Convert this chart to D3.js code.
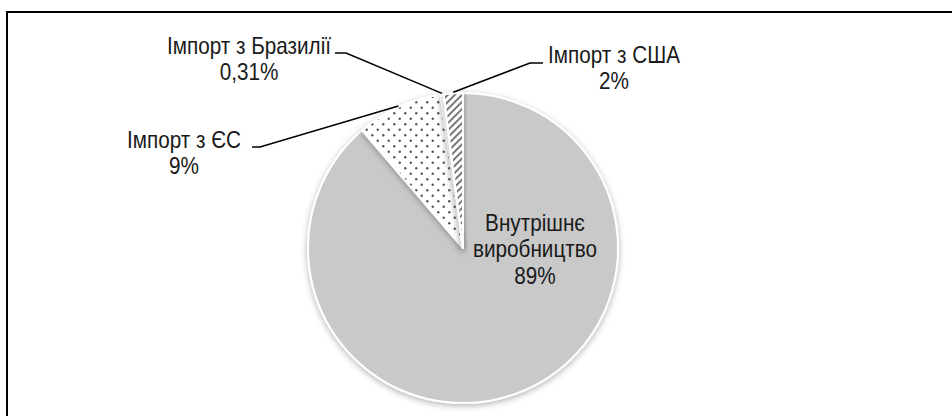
<!DOCTYPE html>
<html>
<head>
<meta charset="utf-8">
<script src="https://cdn.jsdelivr.net/npm/d3@7"></script>
<style>
  body { margin: 0; background: #fff; }
  svg { display: block; }
  text { font-family: "Liberation Sans", Arial, sans-serif; fill: #1a1a1a; }
</style>
</head>
<body>
<div class="canvas"></div>
<script>
// data
const categories = ['Внутрішнє виробництво', 'Імпорт з ЄС', 'Імпорт з Бразилії', 'Імпорт з США'];
const values = [89, 9, 0.31, 2];
const valueLabels = ['89%', '9%', '0,31%', '2%'];
const fills = ['#c9c9c9', 'url(#dots)', '#ffffff', 'url(#hatch)'];

const dimensions = { width: 952, height: 416, radius: 155 };
const center = { x: 463, y: 248 };
const narrow = 0.9; // squeeze Liberation Sans to look like Arial Narrow
const fontSize = 23;

const svg = d3
  .select('.canvas')
  .append('svg')
  .attr('width', dimensions.width)
  .attr('height', dimensions.height);

const defs = svg.append('defs');

// dotted pattern
const dots = defs
  .append('pattern')
  .attr('id', 'dots')
  .attr('patternUnits', 'userSpaceOnUse')
  .attr('width', 11)
  .attr('height', 11);
dots.append('rect').attr('width', 11).attr('height', 11).attr('fill', '#fff');
dots.append('circle').attr('cx', 2.75).attr('cy', 2.75).attr('r', 1.2).attr('fill', '#555');
dots.append('circle').attr('cx', 8.25).attr('cy', 8.25).attr('r', 1.2).attr('fill', '#555');

// diagonal hatch
const hatch = defs
  .append('pattern')
  .attr('id', 'hatch')
  .attr('patternUnits', 'userSpaceOnUse')
  .attr('width', 5)
  .attr('height', 5)
  .attr('patternTransform', 'rotate(45)');
hatch.append('rect').attr('width', 5).attr('height', 5).attr('fill', '#fff');
hatch.append('rect').attr('width', 2).attr('height', 5).attr('fill', '#777');

// soft shadow around slices
const shadow = defs.append('filter').attr('id', 'shadow')
  .attr('x', '-20%').attr('y', '-20%').attr('width', '140%').attr('height', '140%');
shadow.append('feDropShadow')
  .attr('dx', 0).attr('dy', 2)
  .attr('stdDeviation', 3)
  .attr('flood-color', '#000')
  .attr('flood-opacity', 0.3);

// frame
svg.append('rect')
  .attr('x', 7).attr('y', 12)
  .attr('width', 1000).attr('height', 500)
  .attr('fill', 'none')
  .attr('stroke', '#000')
  .attr('stroke-width', 2);

const graph = svg
  .append('g')
  .attr('transform', `translate(${center.x}, ${center.y})`);

const pie = d3.pie().sort(null).value((d) => d.value);

const arcPath = d3.arc().outerRadius(dimensions.radius).innerRadius(0);
const arcEdge = d3.arc().outerRadius(dimensions.radius + 1).innerRadius(dimensions.radius + 1);

const data = categories.map((c, i) => ({ name: c, value: values[i], label: valueLabels[i], fill: fills[i] }));
const arcs = pie(data);

graph
  .selectAll('path.arc')
  .data(arcs)
  .enter()
  .append('path')
  .attr('class', 'arc')
  .attr('d', arcPath)
  .attr('fill', (d) => d.data.fill)
  .attr('stroke', '#fff')
  .attr('stroke-width', 2)
  .attr('stroke-linejoin', 'round')
  .attr('filter', 'url(#shadow)');

// text block centred on x, lines starting at baseline y
const textBlock = (x, y, lines, gap) => {
  const g = svg.append('g').attr('transform', `translate(${x}, ${y}) scale(${narrow}, 1)`);
  const t = g.append('text').attr('text-anchor', 'middle').style('font-size', fontSize + 'px');
  lines.forEach((l, k) => t.append('tspan').attr('x', 0).attr('y', k * gap).text(l));
};

// label anchors (page coords) and leader elbows
const outside = [
  null,
  { x: 184, y: 148, elbow: [[252, 147], [260, 147]] },
  { x: 249, y: 54, elbow: [[335, 53], [346, 53]] },
  { x: 614, y: 63, elbow: [[543, 63], [530, 63]] }
];

const line = d3.line();

arcs.forEach((d, i) => {
  const o = outside[i];
  if (!o) return;
  const e = arcEdge.centroid(d);
  const pts = o.elbow.concat([[e[0] + center.x, e[1] + center.y]]);
  svg.append('path')
    .attr('d', line(pts))
    .attr('fill', 'none')
    .attr('stroke', '#000')
    .attr('stroke-width', 1.5);
  textBlock(o.x, o.y, [d.data.name, d.data.label], 26);
});

// inside label for the big slice
const words = categories[0].split(' ');
textBlock(535, 231, [words[0], words[1], valueLabels[0]], 26.5);
</script>
</body>
</html>
